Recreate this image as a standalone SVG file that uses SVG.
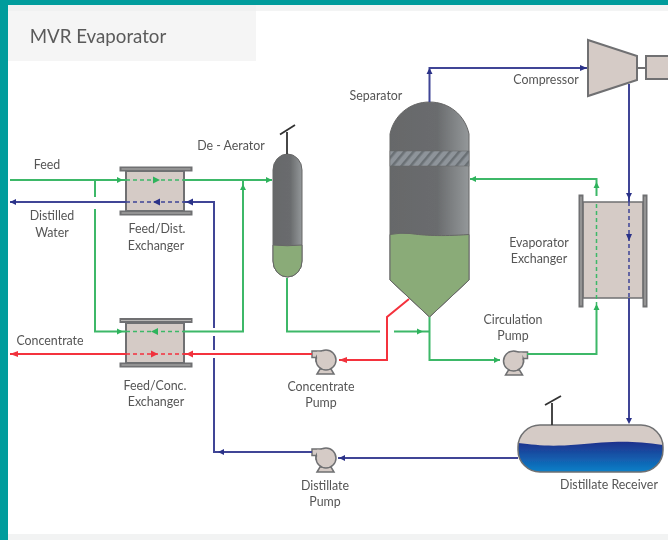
<svg xmlns="http://www.w3.org/2000/svg" width="668" height="540" viewBox="0 0 668 540">
<style>
text{font-family:"Lato","Liberation Sans",sans-serif;font-size:12.4px;fill:#555;text-anchor:middle}
.ln{fill:none;stroke-width:2}
.g{stroke:#3cb868}.b{stroke:#3f4496}.r{stroke:#f4303c}
.d{stroke-dasharray:4 3;stroke-width:1.5}
.m{fill:#d5cbc6;stroke:#6f7072;stroke-width:2}
.fl{fill:#b8b6b4;stroke:#6f7072;stroke-width:2}
.ag{fill:#2fb35c}.ab{fill:#2b3088}.ar{fill:#f0323c}
.vent{fill:none;stroke:#333;stroke-width:1.8}
</style>
<defs>
<filter id="soft" x="0" y="0" width="100%" height="100%"><feGaussianBlur stdDeviation="0.45"/></filter>
<linearGradient id="metal" x1="0" x2="1" y1="0" y2="0"><stop offset="0" stop-color="#66686a"/><stop offset=".6" stop-color="#6a6c6e"/><stop offset="1" stop-color="#94989a"/></linearGradient>
<linearGradient id="water" x1="0" x2="0" y1="0" y2="1"><stop offset="0" stop-color="#20308c"/><stop offset="1" stop-color="#0a80c8"/></linearGradient>
<pattern id="hatch" width="7" height="7" patternUnits="userSpaceOnUse" patternTransform="rotate(40)"><rect width="7" height="7" fill="#8e949a"/><rect width="2.500" height="7" fill="#6a7074"/></pattern>
<clipPath id="recv"><rect x="518" y="425" width="145" height="47" rx="22"/></clipPath>
<g id="pumpshape"><path d="M-9 14l3-5h11l3 5z" class="m" style="stroke-width:1.500"/><path class="m" d="M-14 -9H0V-2H-8V1H-10V-2.500H-14Z" style="stroke-width:1.500"/><circle class="m" cx="0" cy="0" r="10" style="stroke-width:1.500"/><rect x="-9" y="-8.300" width="6" height="6" fill="#d5cbc6"/></g>
</defs>
<g filter="url(#soft)">
<rect width="668" height="540" fill="#fff"/>
<rect y="534" width="668" height="6" fill="#f2f3f3"/>
<rect x="8" y="5" width="248" height="56" fill="#f5f5f5"/>
<rect x="8" y="5" width="660" height="6" fill="#eef0f0" opacity=".7"/>
<rect width="668" height="5" fill="#009c9c"/>
<rect width="8" height="540" fill="#009c9c"/>
<text id="title" x="98" y="43" style="font-size:18.700px;fill:#5a5a5a">MVR Evaporator</text>

<g id="feed-dist-exchanger">
<rect class="m" x="126" y="171" width="58" height="40"/>
<rect class="fl" x="120.500" y="167.500" width="71" height="3"/><rect class="fl" x="120.500" y="211.500" width="71" height="3"/>
</g>
<g id="feed-conc-exchanger">
<rect class="m" x="126" y="323" width="58" height="40"/>
<rect class="fl" x="120.500" y="319" width="71" height="3"/><rect class="fl" x="120.500" y="363.500" width="71" height="3"/>
</g>
<g id="dearator">
<path d="M273 170a14.500 16 0 0 1 29 0V261a14.500 16 0 0 1-29 0Z" fill="url(#metal)" stroke="#666" stroke-width="1"/>
<path d="M273 245q14 1.500 29 0V261a14.500 16 0 0 1-29 0Z" fill="#8aab78" stroke="#666" stroke-width="1"/>
<path class="vent" d="M287 154V132M280 134.500l15-9.500"/>
</g>
<g id="separator">
<path d="M390 134C394 115 410 102 429.500 102S465 115 469 134V280L429.500 317L390 280Z" fill="url(#metal)" stroke="#666"/>
<rect x="390" y="151" width="79" height="15" fill="url(#hatch)" stroke="#666" stroke-width=".5"/>
<path d="M390 234.500q10-2 20-1c15 2 30 3 59 1V280L429.500 317L390 280Z" fill="#8aab78" stroke="#666"/>
</g>
<g id="compressor">
<path class="m" d="M588 40L637 56V80L588 96Z"/>
<path d="M637 68H646" stroke="#6f7072" stroke-width="2"/>
<rect class="m" x="646" y="56" width="24" height="23"/>
</g>
<g id="evaporator-exchanger">
<rect class="m" x="583" y="202" width="60" height="96" style="stroke-width:1.500"/>
<rect class="fl" x="579.500" y="195.500" width="3" height="111"/><rect class="fl" x="643.500" y="195.500" width="3" height="111"/>
</g>
<use id="concentrate-pump" href="#pumpshape" transform="translate(326 360)"/>
<use id="distillate-pump" href="#pumpshape" transform="translate(326 458)"/>
<use id="circulation-pump" href="#pumpshape" transform="translate(513.500 361) scale(-1 1)"/>
<g id="receiver">
<rect x="518" y="425" width="145" height="47" rx="22" fill="#d5cbc6"/>
<path clip-path="url(#recv)" d="M518 443c20 2 30 4 60 1.500s50-5 85 .5V472H518Z" fill="url(#water)"/>
<rect x="518" y="425" width="145" height="47" rx="22" fill="none" stroke="#6f7072" stroke-width="1.500"/>
<path class="vent" d="M552 425V403M545 405l16-9"/>
</g>

<g id="connectors">
<path class="ln g" d="M10 180H126M184 180H272"/>
<path class="ln g" d="M95 180V197M95 209V331.500H126M184 331.500H243V180"/>
<path class="ln g d" d="M126 180H184M126 331.500H184"/>
<path class="ln b" d="M10 202H126M184 202H214V328M214 336V350M214 358V452H312"/>
<path class="ln b d" d="M126 202H184"/>
<path class="ln r" d="M10 354H126M184 354H312M339 360H387V317L409 299"/>
<path class="ln r d" d="M126 354H184"/>
<path class="ln g" d="M287 278V331.500H380M394 331.500H429M429.500 317V360H500M527 354H596.500V306M596.500 196V179H470"/>
<path class="ln g d" d="M596.500 306V202"/>
<path class="ln b" d="M429.500 102V68H587M629 84V202M629 298V420M518 458H338"/>
<path class="ln b d" d="M629 202V298"/>
<path class="ag" d="M123 180l-6-3v6zM160 180l-7-3.500v7zM272 180l-6-3v6zM243 184l-3 6h6zM123 331.500l-6-3v6zM151 331.500l7-3.500v7zM423 331.500l-6-3v6zM500 360l-6-3v6zM596.500 304l-3 6h6zM596.500 182l-3 6h6zM470 179l6-3v6z"/>
<path class="ab" d="M10 202l6-3v6zM153 202l7-3.500v7zM186 202l7-3.500v7zM429.500 68l-3 6h6zM587 68l-7-3v6zM629 199l-3-6h6zM629 241l-3-7h6zM629 424l-3-6h6zM218 452l6-3v6zM339 458l6-3v6z"/>
<path class="ar" d="M10 354l8-3v6zM158 354l-7-3.500v7zM186 354l7-3.500v7zM339 360l8-3v6z"/>
</g>

<g id="labels">
<text x="47" y="169">Feed</text>
<text x="52" y="220">Distilled</text><text x="52" y="237">Water</text>
<text x="157" y="233">Feed/Dist.</text><text x="156" y="250">Exchanger</text>
<text x="231" y="150">De - Aerator</text>
<text x="376" y="100">Separator</text>
<text x="546" y="84">Compressor</text>
<text x="539" y="247">Evaporator</text><text x="539" y="263">Exchanger</text>
<text x="50" y="345">Concentrate</text>
<text x="513" y="324">Circulation</text><text x="513" y="340">Pump</text>
<text x="155" y="390">Feed/Conc.</text><text x="156" y="406">Exchanger</text>
<text x="321" y="391">Concentrate</text><text x="321" y="407">Pump</text>
<text x="325" y="490">Distillate</text><text x="325" y="506">Pump</text>
<text x="609" y="489">Distillate Receiver</text>
</g>
</g>
</svg>
